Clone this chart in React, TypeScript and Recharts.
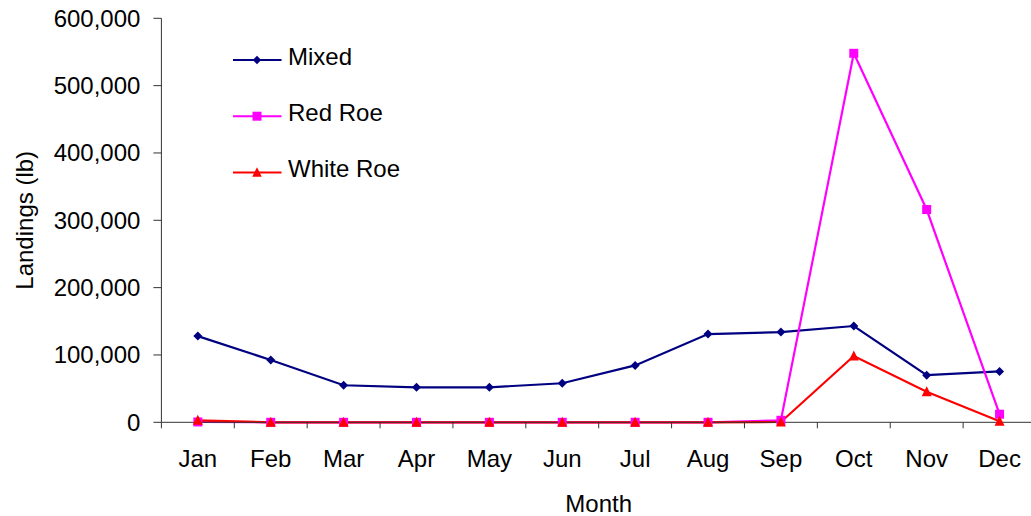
import React from 'react';
import { LineChart, Line, XAxis, YAxis, Legend, Label } from 'recharts';

const months = ['Jan', 'Feb', 'Mar', 'Apr', 'May', 'Jun', 'Jul', 'Aug', 'Sep', 'Oct', 'Nov', 'Dec'];
const mixed = [128000, 92500, 55000, 52000, 52000, 58000, 84500, 131000, 134000, 143000, 70000, 75500];
const redRoe = [500, 0, 0, 0, 0, 0, 0, 0, 3000, 548000, 316000, 12000];
const whiteRoe = [3000, 0, 0, 0, 0, 0, 0, 0, 500, 98500, 45500, 1500];
const yTicks = [0, 100000, 200000, 300000, 400000, 500000, 600000];

const data = months.map((m, i) => ({ month: m, mixed: mixed[i], redRoe: redRoe[i], whiteRoe: whiteRoe[i] }));

const FONT = '"Liberation Sans", Arial, sans-serif';
const PLOT_LEFT = 161.4;
const PLOT_RIGHT = 1036;
const PLOT_TOP = 18.3;
const PLOT_BOTTOM = 422.3;
const CHART_W = 1040;
const CHART_H = 516;
const CAT_W = (PLOT_RIGHT - PLOT_LEFT) / months.length;

const NAVY = '#000080';
const MAGENTA = '#FF00FF';
const RED = '#FF0000';

const Diamond = (props: any) => {
  const { cx, cy, r = 4.5, fill } = props;
  if (cx == null || cy == null) return null;
  return <path d={`M${cx},${cy - r}L${cx + r},${cy}L${cx},${cy + r}L${cx - r},${cy}Z`} fill={fill} />;
};
const Square = (props: any) => {
  const { cx, cy, s = 9, fill } = props;
  if (cx == null || cy == null) return null;
  return <rect x={cx - s / 2} y={cy - s / 2} width={s} height={s} fill={fill} />;
};
const Triangle = (props: any) => {
  const { cx, cy, s = 10, fill } = props;
  if (cx == null || cy == null) return null;
  const h = s * 0.9;
  return <path d={`M${cx},${cy - h / 2 - 1}L${cx + s / 2},${cy + h / 2}L${cx - s / 2},${cy + h / 2}Z`} fill={fill} />;
};

const XTick = (props: any) => {
  const { x, payload, index } = props;
  const y = PLOT_BOTTOM;
  const left = x - CAT_W / 2;
  return (
    <g>
      <line x1={left} x2={left} y1={y} y2={y + 6} stroke="#333" strokeWidth={1} />
      {index === months.length - 1 && (
        <line x1={x + CAT_W / 2} x2={x + CAT_W / 2} y1={y} y2={y + 6} stroke="#333" strokeWidth={1} />
      )}
      <text x={x} y={y + 45} textAnchor="middle" fill="#000" fontSize={24} fontFamily={FONT}>
        {payload.value}
      </text>
    </g>
  );
};

const legendItems = [
  { name: 'Mixed', color: NAVY, marker: 'diamond' },
  { name: 'Red Roe', color: MAGENTA, marker: 'square' },
  { name: 'White Roe', color: RED, marker: 'triangle' },
];

const LegendContent = () => (
  <svg width={260} height={170} style={{ overflow: 'visible', display: 'block' }}>
    {legendItems.map((it, i) => {
      const y = 30 + i * 56.2;
      const mx = 24;
      return (
        <g key={it.name}>
          <line x1={0} x2={48.5} y1={y} y2={y} stroke={it.color} strokeWidth={2} />
          {it.marker === 'diamond' && <Diamond cx={mx} cy={y} r={4.2} fill={it.color} />}
          {it.marker === 'square' && <Square cx={mx} cy={y} s={9} fill={it.color} />}
          {it.marker === 'triangle' && <Triangle cx={mx} cy={y} s={9.5} fill={it.color} />}
          <text x={55} y={y + 5} fill="#000" fontSize={24} fontFamily={FONT}>
            {it.name}
          </text>
        </g>
      );
    })}
  </svg>
);

export default function App() {
  return (
    <div style={{ width: 1031, height: 516, overflow: 'hidden', position: 'relative', background: '#fff' }}>
      <style>{`body{margin:0;overflow:hidden;background:#fff}`}</style>
      <LineChart
        width={CHART_W}
        height={CHART_H}
        data={data}
        margin={{ top: PLOT_TOP, right: CHART_W - PLOT_RIGHT, bottom: CHART_H - PLOT_BOTTOM - 60, left: PLOT_LEFT - 120 }}
        style={{ fontFamily: FONT }}
      >
        <XAxis
          dataKey="month"
          height={60}
          interval={0}
          padding={{ left: CAT_W / 2, right: CAT_W / 2 }}
          tickLine={false}
          tickSize={0}
          tickMargin={0}
          tick={<XTick />}
          axisLine={{ stroke: '#333', strokeWidth: 1 }}
        >
          <Label
            content={() => (
              <text x={(PLOT_LEFT + PLOT_RIGHT) / 2} y={512} textAnchor="middle" fill="#000" fontSize={24} fontFamily={FONT}>
                Month
              </text>
            )}
          />
        </XAxis>
        <YAxis
          width={120}
          domain={[0, 600000]}
          ticks={yTicks}
          interval={0}
          tickSize={8}
          tickMargin={13}
          tickFormatter={(v: number) => v.toLocaleString('en-US')}
          tick={{ fill: '#000', fontSize: 24, fontFamily: FONT }}
          tickLine={{ stroke: '#333', strokeWidth: 1 }}
          axisLine={{ stroke: '#333', strokeWidth: 1 }}
        >
          <Label
            content={() => (
              <text
                x={33}
                y={(PLOT_TOP + PLOT_BOTTOM) / 2}
                transform={`rotate(-90, 33, ${(PLOT_TOP + PLOT_BOTTOM) / 2})`}
                textAnchor="middle"
                fill="#000"
                fontSize={24}
                fontFamily={FONT}
              >
                Landings (lb)
              </text>
            )}
          />
        </YAxis>
        <Legend
          layout="horizontal"
          verticalAlign="middle"
          align="center"
          wrapperStyle={{ position: 'absolute', left: 233.3, top: 30, width: 260, height: 170 }}
          content={<LegendContent />}
        />
        <Line
          type="linear"
          dataKey="mixed"
          name="Mixed"
          stroke={NAVY}
          strokeWidth={2.2}
          dot={(p: any) => <Diamond key={`d${p.index}`} cx={p.cx} cy={p.cy} r={4.5} fill={NAVY} />}
          activeDot={false}
          isAnimationActive={false}
        />
        <Line
          type="linear"
          dataKey="redRoe"
          name="Red Roe"
          stroke={MAGENTA}
          strokeWidth={2.2}
          dot={(p: any) => <Square key={`s${p.index}`} cx={p.cx} cy={p.cy} s={9} fill={MAGENTA} />}
          activeDot={false}
          isAnimationActive={false}
        />
        <Line
          type="linear"
          dataKey="whiteRoe"
          name="White Roe"
          stroke={RED}
          strokeWidth={2.2}
          dot={(p: any) => <Triangle key={`t${p.index}`} cx={p.cx} cy={p.cy} s={10} fill={RED} />}
          activeDot={false}
          isAnimationActive={false}
        />
      </LineChart>
    </div>
  );
}
